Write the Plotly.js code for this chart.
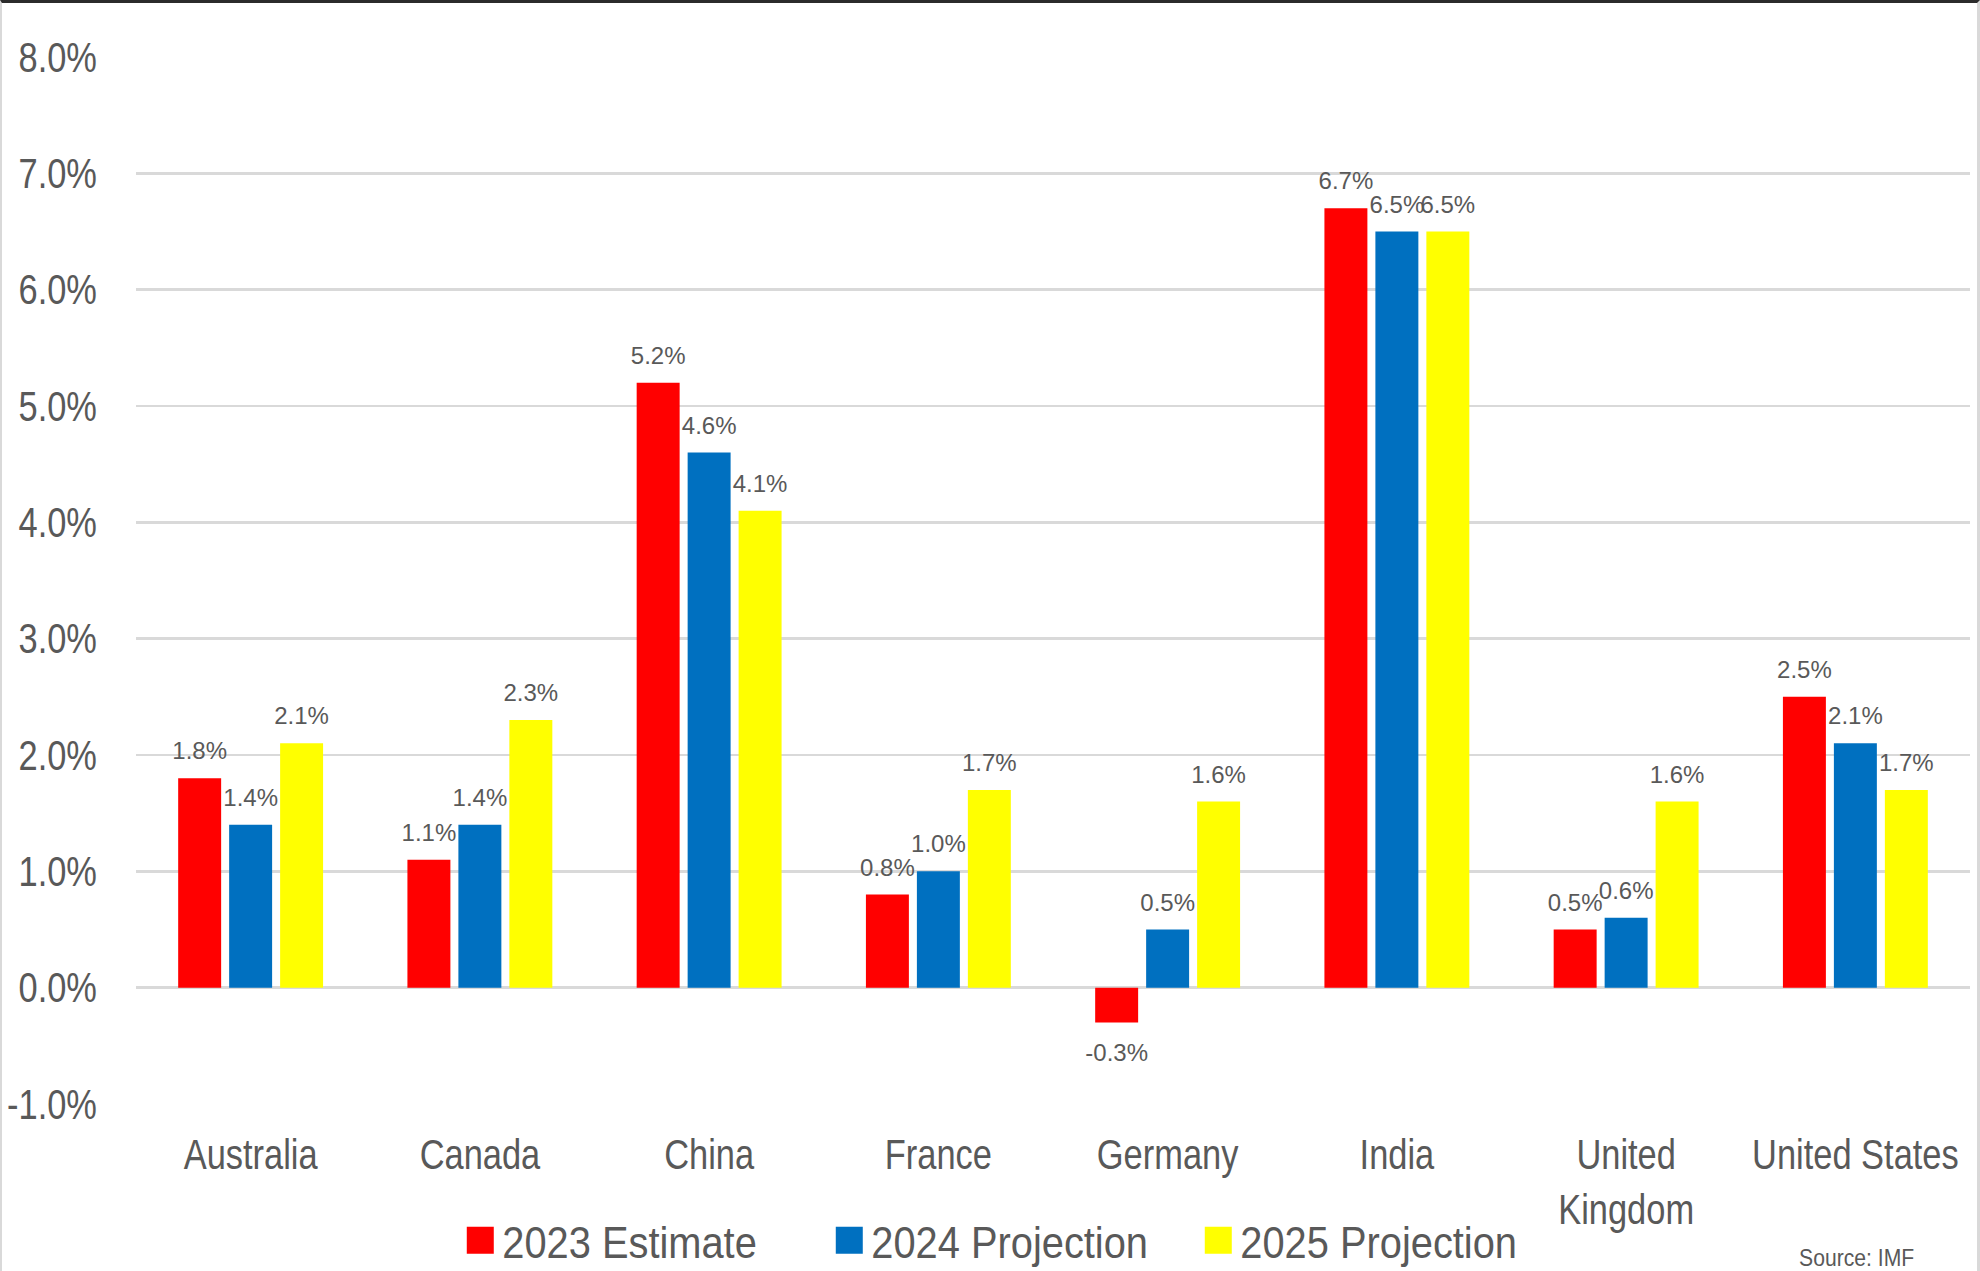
<!DOCTYPE html>
<html>
<head>
<meta charset="utf-8">
<script src="https://cdn.plot.ly/plotly-3.0.1.min.js"></script>
<style>
  html, body { margin: 0; padding: 0; background: #ffffff; }
  #wrap { position: relative; width: 1980px; height: 1271px; overflow: hidden; }
  #chart { position: absolute; left: 0; top: 0; width: 1980px; height: 1271px; }
  #frame { position: absolute; left: 0; top: 0; width: 1980px; height: 1271px; box-sizing: border-box;
           border-top: 3px solid #2b2b2b; border-left: 2px solid #d9d9d9; border-right: 3px solid #d9d9d9;
           pointer-events: none; }
</style>
</head>
<body>
<div id="wrap">
  <div id="chart"></div>
  <div id="frame"></div>
</div>
<script>
// ---- data ----
const countries = ["Australia", "Canada", "China", "France", "Germany", "India", "United<br>Kingdom", "United States"];
const seriesNames = ["2023 Estimate", "2024 Projection", "2025 Projection"];
const est2023 = [1.8, 1.1, 5.2, 0.8, -0.3, 6.7, 0.5, 2.5];
const proj2024 = [1.4, 1.4, 4.6, 1.0, 0.5, 6.5, 0.6, 2.1];
const proj2025 = [2.1, 2.3, 4.1, 1.7, 1.6, 6.5, 1.6, 1.7];
const yTickVals = [-1, 0, 1, 2, 3, 4, 5, 6, 7, 8];
const sourceNote = "Source: IMF";

// ---- styles ----
const colors = ["#FF0000", "#0070C0", "#FFFF00"];
const sans = '"Liberation Sans", Arial, sans-serif';
const textGray = "#595959";

const seriesValues = [est2023, proj2024, proj2025];
const traces = seriesValues.map((vals, i) => ({
  type: "bar",
  name: seriesNames[i],
  x: countries,
  y: vals,
  marker: { color: colors[i], line: { width: 0 } },
  text: vals.map(v => v.toFixed(1) + "%"),
  textposition: "outside",
  constraintext: "none",
  textfont: { family: sans, size: 24, color: textGray },
  cliponaxis: false,
  hoverinfo: "skip"
}));

const layout = {
  width: 1980,
  height: 1271,
  paper_bgcolor: "#ffffff",
  plot_bgcolor: "#ffffff",
  margin: { l: 136, r: 10, t: 57, b: 167, pad: 0 },
  barmode: "group",
  bargap: 0.333,
  bargroupgap: 0.157,
  showlegend: true,
  legend: {
    orientation: "h",
    xref: "container", yref: "container",
    x: 0.511, xanchor: "center",
    y: 0.024, yanchor: "middle",
    font: { family: sans, size: 45, color: textGray },
    entrywidth: 320, entrywidthmode: "pixels",
    itemwidth: 34,
    itemclick: false, itemdoubleclick: false,
    bgcolor: "rgba(0,0,0,0)"
  },
  xaxis: {
    type: "category",
    tickfont: { family: sans, size: 42, color: textGray },
    ticks: "",
    ticklabelstandoff: 22,
    showline: false,
    showgrid: false,
    zeroline: false,
    fixedrange: true
  },
  yaxis: {
    range: [-1, 8],
    tickvals: yTickVals,
    ticktext: yTickVals.map(v => v.toFixed(1) + "%"),
    tickfont: { family: sans, size: 42, color: textGray },
    ticks: "",
    ticklabelstandoff: 38,
    showgrid: true,
    gridcolor: "#D9D9D9",
    gridwidth: 2.5,
    zeroline: false,
    showline: false,
    fixedrange: true
  },
  annotations: [{
    text: sourceNote,
    xref: "paper", yref: "paper",
    x: 0.938, y: -0.147,
    xanchor: "center", yanchor: "middle",
    showarrow: false,
    font: { family: sans, size: 23, color: textGray }
  }]
};

// horizontally condense a text element about its anchor point (the reference uses a narrow face)
function squeeze(selector, f) {
  document.querySelectorAll(selector).forEach(t => {
    const bb = t.getBBox();
    const anchor = t.getAttribute("text-anchor") || "start";
    const cx = anchor === "end" ? bb.x + bb.width : (anchor === "middle" ? bb.x + bb.width / 2 : bb.x);
    const cy = bb.y + bb.height / 2;
    const T = t.getAttribute("transform") || "";
    t.setAttribute("transform", `${T} translate(${cx},${cy}) scale(${f},1) translate(${-cx},${-cy})`);
  });
}

Plotly.newPlot("chart", traces, layout, { staticPlot: true, displayModeBar: false }).then(() => {
  // larger legend swatches
  document.querySelectorAll("#chart .legend .legendpoints path").forEach(p => {
    const t = p.getAttribute("transform") || "";
    p.setAttribute("transform", t + " scale(2.25)");
  });
  squeeze("#chart .ytick text", 0.82);
  squeeze("#chart .xtick text", 0.82);
  squeeze("#chart .legend text.legendtext", 0.885);
  squeeze("#chart .annotation-text", 0.92);
  // extra clearance between bars and their value labels
  document.querySelectorAll("#chart .bars text.bartext").forEach(t => {
    const neg = (t.textContent || "").trim().startsWith("-");
    const T = t.getAttribute("transform") || "";
    t.setAttribute("transform", `translate(0,${neg ? 13 : -11}) ${T}`);
  });
});
</script>
</body>
</html>
